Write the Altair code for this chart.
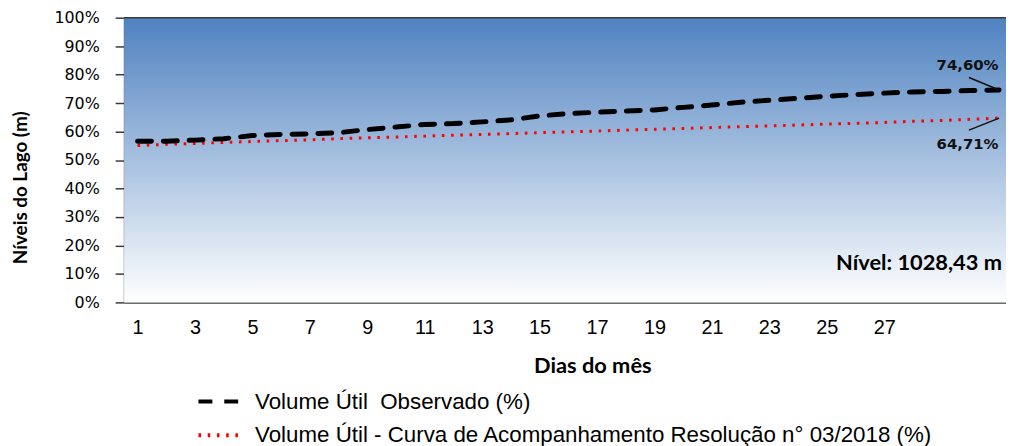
import altair as alt
import pandas as pd

# ---- data ----
dias = list(range(1, 32))
observado = [56.6, 56.6, 57.0, 57.5, 58.6, 59.0, 59.2, 59.6, 60.7, 61.6,
             62.5, 62.8, 63.4, 64.1, 65.5, 66.3, 66.8, 67.2, 67.6, 68.5,
             69.3, 70.3, 71.0, 71.7, 72.4, 73.0, 73.5, 73.9, 74.1, 74.4, 74.60]
curva = [55.1, 55.5, 55.8, 56.2, 56.5, 56.8, 57.1, 57.5, 57.8, 58.1,
         58.4, 58.7, 59.0, 59.3, 59.6, 59.9, 60.2, 60.5, 60.8, 61.1,
         61.4, 61.7, 62.0, 62.3, 62.6, 62.9, 63.2, 63.6, 63.9, 64.3, 64.71]
serie_obs = "Volume Útil \u00a0Observado (%)"
serie_curva = "Volume Útil - Curva de Acompanhamento Resolução n° 03/2018 (%)"
series = [serie_obs, serie_curva]
x_ticks = [1, 3, 5, 7, 9, 11, 13, 15, 17, 19, 21, 23, 25, 27]
y_ticks = [0, 10, 20, 30, 40, 50, 60, 70, 80, 90, 100]
x_domain = [0.53, 31.24]
y_domain = [0, 100]
nivel_text = "Nível: 1028,43 m"
last_labels = ["74,60%", "64,71%"]

W, H = 889, 287

df = pd.DataFrame({
    "dia": dias * 2,
    "valor": observado + curva,
    "serie": [serie_obs] * len(dias) + [serie_curva] * len(dias),
})

xs = alt.Scale(domain=x_domain, nice=False, zero=False)
ys = alt.Scale(domain=y_domain, nice=False)

x_axis = alt.Axis(values=x_ticks, format="d", ticks=False, grid=False,
                  domainColor="#3a3a3a", domainWidth=1.5,
                  labelFont="Liberation Sans", labelFontSize=20, labelColor="#000000",
                  labelPadding=15, labelFlush=False, labelOverlap=False,
                  title="Dias do mês", titleFont="Lato", titleFontSize=22,
                  titleFontWeight="bold", titleColor="#000000",
                  titleX=472, titleY=64, titleBaseline="middle", titleAnchor="middle")
y_axis = alt.Axis(values=y_ticks, labelExpr="datum.value + '%'", grid=False,
                  tickCount=11,
                  domainColor="#3a3a3a", domainWidth=1.5,
                  tickColor="#3a3a3a", tickWidth=1.5, tickSize=9,
                  labelFont="DejaVu Sans", labelFontSize=16, labelColor="#000000",
                  labelPadding=16, labelOverlap=False, labelBound=False,
                  title="Níveis do Lago (m)", titleFont="Lato", titleFontSize=19,
                  titleFontWeight="bold", titleColor="#000000",
                  titleX=-104, titleY=171, titleAngle=-90,
                  titleBaseline="middle", titleAnchor="middle")

def X(field):
    return alt.X(field, scale=xs, axis=x_axis)

def Y(field):
    return alt.Y(field, scale=ys, axis=y_axis)

bg_df = pd.DataFrame({"x0": [x_domain[0]], "x1": [x_domain[1]], "y0": [0], "y1": [100]})
background = alt.Chart(bg_df).mark_rect(
    color=alt.Gradient(
        gradient="linear",
        stops=[alt.GradientStop(color="#4F82C0", offset=0),
               alt.GradientStop(color="#FFFFFF", offset=1)],
        x1=0, x2=0, y1=0, y2=1,
    )
).encode(x=X("x0:Q"), x2="x1:Q", y=Y("y0:Q"), y2="y1:Q")

top_df = pd.DataFrame({"x0": [x_domain[0]], "x1": [x_domain[1]], "y": [100]})
top_border = alt.Chart(top_df).mark_rule(color="#3a3a3a", strokeWidth=1.5).encode(
    x=X("x0:Q"), x2="x1:Q", y=Y("y:Q")
)

legend = alt.Legend(orient="none", legendX=73, legendY=365, title=None,
                    symbolType="stroke", symbolSize=1600, symbolStrokeWidth=4,
                    labelFont="Liberation Sans", labelFontSize=22.5,
                    labelColor="#000000", labelLimit=1000,
                    rowPadding=0, labelOffset=15, padding=0)

color_enc = alt.Color("serie:N", scale=alt.Scale(domain=series, range=["#000000", "#FF0000"]),
                      legend=legend)
dash_enc = alt.StrokeDash("serie:N",
                          scale=alt.Scale(domain=series, range=[[14, 12], [2.6, 6.7]]),
                          legend=legend)

line_obs = alt.Chart(df).transform_filter(alt.datum.serie == serie_obs).mark_line(
    strokeCap="round", strokeJoin="round", strokeWidth=5
).encode(x=X("dia:Q"), y=Y("valor:Q"), color=color_enc, strokeDash=dash_enc, order="dia:Q")
line_curva = alt.Chart(df).transform_filter(alt.datum.serie == serie_curva).mark_line(
    strokeCap="butt", strokeWidth=3
).encode(x=X("dia:Q"), y=Y("valor:Q"), color=color_enc, strokeDash=dash_enc, order="dia:Q")

ann_df = pd.DataFrame({
    "tx": [29.9, 29.9],
    "ty": [83.3, 55.6],
    "label": last_labels,
    "lx0": [29.95, 29.95],
    "ly0": [79.0, 60.5],
    "lx1": [dias[-1], dias[-1]],
    "ly1": [observado[-1], curva[-1]],
})
ann_text = alt.Chart(ann_df).mark_text(
    font="DejaVu Sans", fontSize=15, fontWeight="bold", color="#111111",
    align="center", baseline="middle"
).encode(x=X("tx:Q"), y=Y("ty:Q"), text="label:N")
ann_lines = alt.Chart(ann_df).mark_rule(color="#111111", strokeWidth=1.5).encode(
    x=X("lx0:Q"), y=Y("ly0:Q"), x2="lx1:Q", y2="ly1:Q"
)

nivel_df = pd.DataFrame({"x": [31.1], "y": [13.9], "t": [nivel_text]})
nivel = alt.Chart(nivel_df).mark_text(
    font="Lato", fontSize=22, fontWeight="bold", color="#000000",
    align="right", baseline="middle"
).encode(x=X("x:Q"), y=Y("y:Q"), text="t:N")

chart = alt.layer(background, top_border, line_curva, line_obs, ann_lines, ann_text, nivel).properties(
    width=W, height=H,
    autosize=alt.AutoSizeParams(type="none"),
    padding={"left": 117, "top": 8, "right": 0, "bottom": 143},
).configure_view(stroke=None)

chart.save("out.html", embed_options={"renderer": "svg", "actions": False})
